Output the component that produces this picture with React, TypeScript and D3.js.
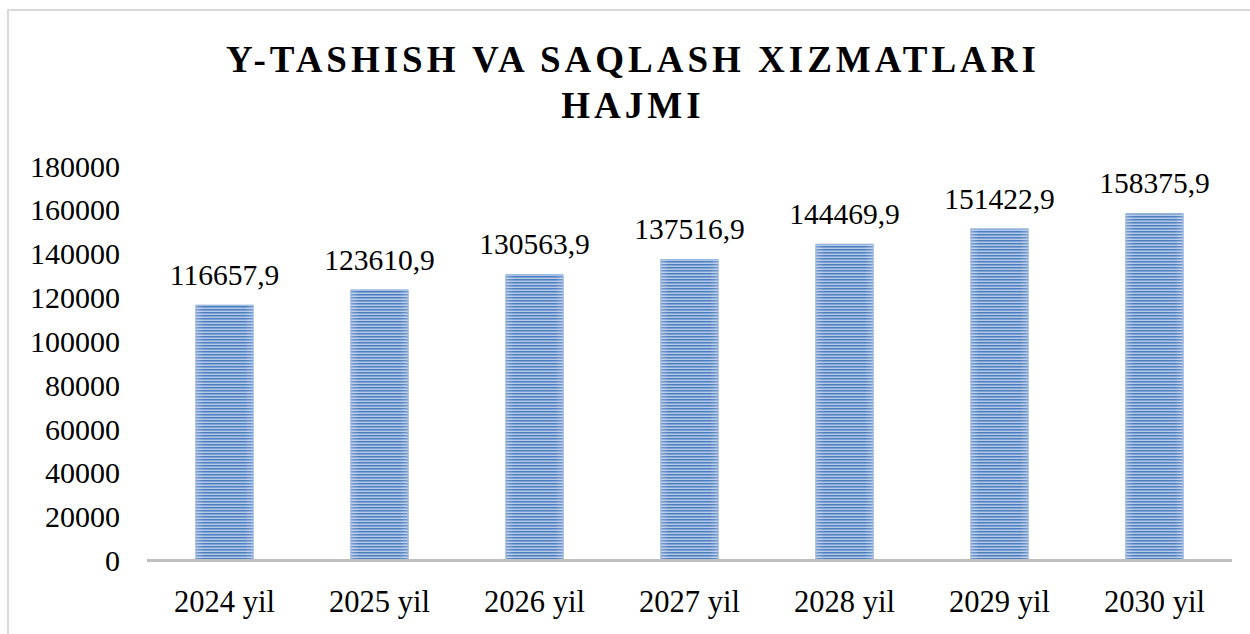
import React from "react";
import * as d3 from "d3";

const categories = ["2024 yil", "2025 yil", "2026 yil", "2027 yil", "2028 yil", "2029 yil", "2030 yil"];
const values = [116657.9, 123610.9, 130563.9, 137516.9, 144469.9, 151422.9, 158375.9];
const valueLabels = ["116657,9", "123610,9", "130563,9", "137516,9", "144469,9", "151422,9", "158375,9"];
const yTicks = [0, 20000, 40000, 60000, 80000, 100000, 120000, 140000, 160000, 180000];
const titleLines = ["Y-TASHISH VA SAQLASH XIZMATLARI", "HAJMI"];

const W = 1250;
const H = 634;
const FONT = "'Liberation Serif', 'Times New Roman', serif";

export default function App() {
  const x = d3.scaleBand<string>().domain(categories).range([147, 1232]).paddingInner(0.626).paddingOuter(0.313);
  const y = d3.scaleLinear().domain([0, 180000]).range([560.5, 166]);
  return (
    <svg width={W} height={H} style={{ position: "absolute", left: 0, top: 0, background: "#fff" }}>
      <defs>
        <pattern id="stripes" patternUnits="userSpaceOnUse" width={8} height={3}>
          <rect x={0} y={0} width={8} height={3} fill="#7fa2d4" />
          <rect x={0} y={0} width={8} height={1} fill="#4f7ebf" />
          <rect x={0} y={2} width={8} height={1} fill="#b3c9e8" />
        </pattern>
        <linearGradient id="edge" x1="0" x2="1" y1="0" y2="0">
          <stop offset="0" stopColor="#ffffff" stopOpacity={0.25} />
          <stop offset="0.15" stopColor="#ffffff" stopOpacity={0} />
          <stop offset="0.85" stopColor="#ffffff" stopOpacity={0} />
          <stop offset="1" stopColor="#ffffff" stopOpacity={0.25} />
        </linearGradient>
      </defs>
      <rect x={8} y={10} width={1260} height={640} fill="#fff" stroke="#d9d9d9" strokeWidth={2} />
      {titleLines.map((t, i) => (
        <text key={t} x={633} y={72 + i * 46} textAnchor="middle" fontFamily={FONT} fontWeight="bold"
          fontSize={37} letterSpacing={4} fill="#000">{t}</text>
      ))}
      {yTicks.map((v) => (
        <text key={v} x={120} y={y(v)} dy="0.35em" textAnchor="end" fontFamily={FONT} fontSize={30} fill="#000">{v}</text>
      ))}
      {categories.map((c, i) => {
        const bx = x(c) as number;
        const by = y(values[i]);
        const bw = x.bandwidth();
        const bh = y(0) - by;
        return (
          <g key={c}>
            <rect x={bx} y={by} width={bw} height={bh} fill="url(#stripes)" />
            <rect x={bx} y={by} width={bw} height={bh} fill="url(#edge)" />
            <rect x={bx + 0.5} y={by + 0.5} width={bw - 1} height={bh - 1} fill="none" stroke="#9ab6df" strokeWidth={1} />
            <text x={bx + bw / 2} y={by - 20} textAnchor="middle" fontFamily={FONT} fontSize={29.5} fill="#000">{valueLabels[i]}</text>
            <text x={bx + bw / 2} y={612} textAnchor="middle" fontFamily={FONT} fontSize={30.5} fill="#000">{c}</text>
          </g>
        );
      })}
      <line x1={147} x2={1232} y1={y(0)} y2={y(0)} stroke="#bfbfbf" strokeWidth={3} />
    </svg>
  );
}
